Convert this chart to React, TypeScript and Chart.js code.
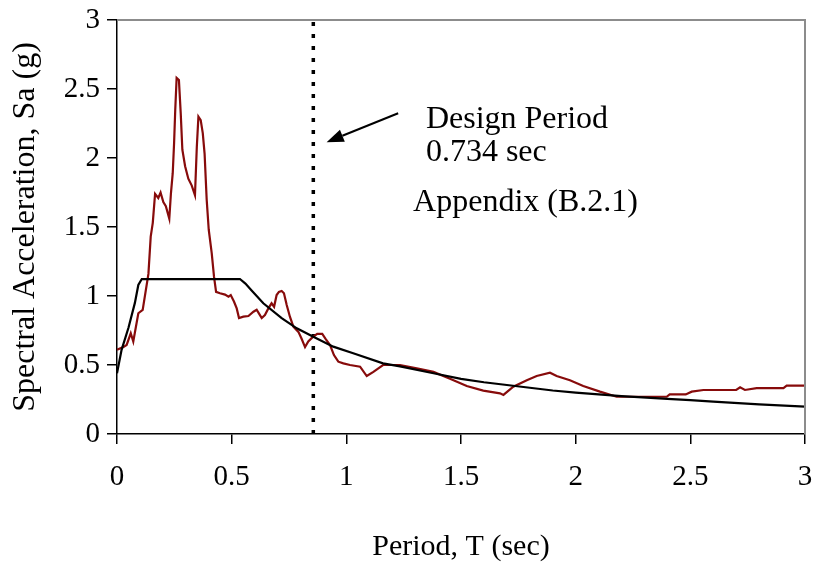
import React, { useEffect, useRef } from 'react';
import { Chart, registerables } from 'chart.js';

Chart.register(...registerables);

const FONT = '"Liberation Serif", "Times New Roman", serif';

// Recorded response spectrum (red)
const recordedPeriod = [0, 0.028, 0.042, 0.06, 0.071, 0.093, 0.112, 0.137, 0.147, 0.156, 0.166, 0.18, 0.19, 0.202, 0.213, 0.228, 0.235, 0.243, 0.249, 0.254, 0.26, 0.27, 0.278, 0.285, 0.297, 0.311, 0.326, 0.34, 0.348, 0.355, 0.365, 0.374, 0.382, 0.391, 0.40, 0.413, 0.423, 0.432, 0.449, 0.471, 0.486, 0.496, 0.51, 0.522, 0.532, 0.551, 0.573, 0.595, 0.609, 0.62, 0.631, 0.645, 0.66, 0.674, 0.685, 0.696, 0.706, 0.718, 0.728, 0.74, 0.754, 0.769, 0.791, 0.805, 0.82, 0.834, 0.852, 0.873, 0.895, 0.911, 0.929, 0.946, 0.965, 0.987, 1.016, 1.06, 1.089, 1.118, 1.16, 1.234, 1.307, 1.38, 1.452, 1.525, 1.597, 1.67, 1.685, 1.728, 1.787, 1.83, 1.888, 1.917, 1.975, 2.033, 2.106, 2.179, 2.25, 2.397, 2.41, 2.48, 2.506, 2.557, 2.70, 2.717, 2.738, 2.789, 2.906, 2.92, 3.0];
const recordedSa = [0.61, 0.63, 0.645, 0.73, 0.67, 0.875, 0.90, 1.16, 1.43, 1.53, 1.74, 1.71, 1.75, 1.68, 1.65, 1.56, 1.74, 1.89, 2.11, 2.35, 2.58, 2.565, 2.32, 2.06, 1.94, 1.85, 1.80, 1.73, 2.08, 2.30, 2.275, 2.18, 2.03, 1.70, 1.48, 1.31, 1.14, 1.03, 1.02, 1.01, 0.995, 1.007, 0.96, 0.91, 0.84, 0.85, 0.855, 0.886, 0.90, 0.87, 0.84, 0.862, 0.91, 0.947, 0.922, 1.007, 1.03, 1.036, 1.02, 0.935, 0.85, 0.778, 0.74, 0.69, 0.63, 0.67, 0.70, 0.725, 0.725, 0.686, 0.645, 0.572, 0.524, 0.512, 0.50, 0.488, 0.42, 0.45, 0.50, 0.50, 0.476, 0.45, 0.40, 0.348, 0.314, 0.295, 0.283, 0.343, 0.39, 0.42, 0.444, 0.42, 0.39, 0.348, 0.307, 0.27, 0.27, 0.27, 0.287, 0.287, 0.307, 0.319, 0.319, 0.338, 0.319, 0.333, 0.333, 0.35, 0.35];

// Design spectrum (black)
const designPeriod = [0, 0.02, 0.05, 0.078, 0.093, 0.108, 0.536, 0.56, 0.587, 0.638, 0.718, 0.784, 0.856, 0.943, 1.03, 1.16, 1.234, 1.38, 1.5, 1.6, 1.7, 1.8, 1.9, 2.0, 2.2, 2.4, 2.5, 2.6, 2.8, 3.0];
const designSa = [0.44, 0.61, 0.77, 0.95, 1.08, 1.123, 1.123, 1.09, 1.04, 0.947, 0.84, 0.766, 0.705, 0.633, 0.585, 0.512, 0.49, 0.44, 0.40, 0.375, 0.355, 0.335, 0.315, 0.30, 0.275, 0.255, 0.246, 0.235, 0.215, 0.198];

// Design period marker (vertical dotted line)
const markerPeriod = [0.856, 0.856];
const markerSa = [0, 3];

// Annotation texts and anchor points (data units)
const annotationTexts = ['Design Period', '0.734 sec', 'Appendix (B.2.1)'];
const annotationT = [1.347, 1.347, 1.291];
const annotationSa = [2.215, 1.975, 1.615];
const arrowFrom = [1.226, 2.324];
const arrowTo = [0.914, 2.115];

const tickLabels: Record<number, string> = { 0: '0', 0.5: '0.5', 1: '1', 1.5: '1.5', 2: '2', 2.5: '2.5', 3: '3' };

function pts(xs: number[], ys: number[]) {
  return xs.map((x, i) => ({ x, y: ys[i] }));
}

export default function App() {
  const ref = useRef<HTMLCanvasElement>(null);

  useEffect(() => {
    const canvas = ref.current;
    if (!canvas) return;

    const annotPlugin = {
      id: 'annot',
      afterDatasetsDraw(chart: any) {
        const { ctx, chartArea, scales } = chart;
        const x = scales.x;
        const y = scales.y;
        ctx.save();
        // gray plot border top & right
        ctx.strokeStyle = '#8c8c8c';
        ctx.lineWidth = 2;
        ctx.beginPath();
        ctx.moveTo(chartArea.left, chartArea.top);
        ctx.lineTo(chartArea.right, chartArea.top);
        ctx.lineTo(chartArea.right, chartArea.bottom);
        ctx.stroke();

        // texts
        ctx.fillStyle = '#000';
        ctx.font = '32px ' + FONT;
        ctx.textBaseline = 'alphabetic';
        ctx.textAlign = 'left';
        annotationTexts.forEach((t, i) => {
          ctx.fillText(t, x.getPixelForValue(annotationT[i]), y.getPixelForValue(annotationSa[i]));
        });

        // arrow
        const x1 = x.getPixelForValue(arrowFrom[0]);
        const y1 = y.getPixelForValue(arrowFrom[1]);
        const x2 = x.getPixelForValue(arrowTo[0]);
        const y2 = y.getPixelForValue(arrowTo[1]);
        const ang = Math.atan2(y2 - y1, x2 - x1);
        const headLen = 17;
        const headHalf = 6.5;
        const bx = x2 - headLen * Math.cos(ang);
        const by = y2 - headLen * Math.sin(ang);
        ctx.strokeStyle = '#000';
        ctx.lineWidth = 2;
        ctx.beginPath();
        ctx.moveTo(x1, y1);
        ctx.lineTo(bx, by);
        ctx.stroke();
        ctx.beginPath();
        ctx.moveTo(x2, y2);
        ctx.lineTo(bx + headHalf * Math.sin(ang), by - headHalf * Math.cos(ang));
        ctx.lineTo(bx - headHalf * Math.sin(ang), by + headHalf * Math.cos(ang));
        ctx.closePath();
        ctx.fill();
        ctx.restore();
      },
    };

    const chart = new Chart(canvas, {
      type: 'scatter',
      data: {
        datasets: [
          {
            label: 'Design',
            data: pts(designPeriod, designSa),
            showLine: true,
            borderColor: '#000000',
            borderWidth: 2.2,
            pointRadius: 0,
            tension: 0,
          },
          {
            label: 'Recorded',
            data: pts(recordedPeriod, recordedSa),
            showLine: true,
            borderColor: '#870b0b',
            borderWidth: 2.2,
            pointRadius: 0,
            tension: 0,
          },
          {
            label: 'Design period',
            data: pts(markerPeriod, markerSa),
            showLine: true,
            borderColor: '#000000',
            borderWidth: 3.5,
            borderDash: [4, 8],
            borderCapStyle: 'butt',
            pointRadius: 0,
            tension: 0,
          },
        ],
      },
      options: {
        responsive: false,
        animation: false,
        events: [],
        layout: { padding: { top: 20, right: 10, left: 0, bottom: 0 } },
        plugins: { legend: { display: false }, tooltip: { enabled: false } },
        scales: {
          x: {
            type: 'linear',
            min: 0,
            max: 3,
            afterFit: (s: any) => { s.height = 131; s.paddingLeft = 0; s.paddingRight = 0; },
            ticks: {
              stepSize: 0.5,
              color: '#000',
              font: { family: FONT, size: 29 },
              padding: 16,
              maxRotation: 0,
              callback: (v: any) => tickLabels[v as number] ?? String(v),
            },
            grid: { drawOnChartArea: false, drawTicks: true, tickLength: 10, color: '#000', lineWidth: 1.5 },
            border: { display: true, color: '#000', width: 1.5 },
            title: {
              display: true,
              text: 'Period, T (sec)',
              color: '#000',
              font: { family: FONT, size: 30 },
              padding: { top: 0, bottom: 0 },
            },
          },
          y: {
            type: 'linear',
            min: 0,
            max: 3,
            afterFit: (s: any) => { s.width = 117; s.paddingTop = 0; s.paddingBottom = 0; },
            ticks: {
              stepSize: 0.5,
              color: '#000',
              font: { family: FONT, size: 29 },
              padding: 7,
              callback: (v: any) => tickLabels[v as number] ?? String(v),
            },
            grid: { drawOnChartArea: false, drawTicks: true, tickLength: 10, color: '#000', lineWidth: 1.5 },
            border: { display: true, color: '#000', width: 1.5 },
            title: {
              display: true,
              text: 'Spectral Acceleration, Sa (g)',
              color: '#000',
              font: { family: FONT, size: 32 },
              padding: { top: 6, bottom: 0 },
            },
          },
        },
      },
      plugins: [annotPlugin],
    });

    return () => chart.destroy();
  }, []);

  return (
    <div style={{ position: 'absolute', left: 0, top: 0, width: 815, height: 565, background: '#fff' }}>
      <canvas ref={ref} width={815} height={565} style={{ width: 815, height: 565, display: 'block' }} />
    </div>
  );
}
